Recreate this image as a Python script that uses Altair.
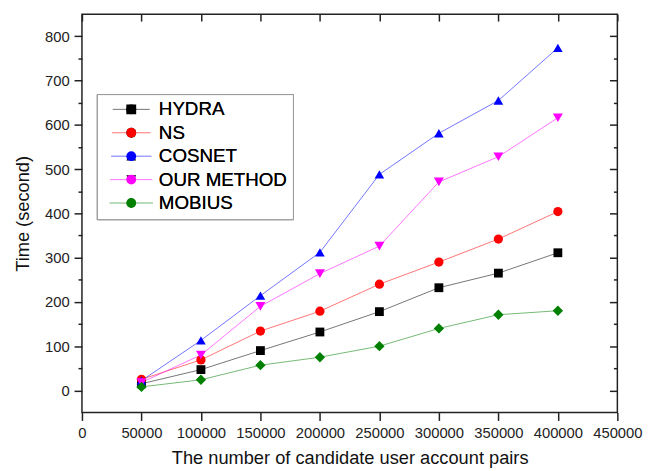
import altair as alt
import pandas as pd

# ---- data ----
x_vals = [50000, 100000, 150000, 200000, 250000, 300000, 350000, 400000]
series_names = ["HYDRA", "NS", "COSNET", "OUR METHOD", "MOBIUS"]
hydra = [15, 47, 90, 132, 178, 232, 265, 311]
ns = [25, 69, 134, 179, 240, 290, 342, 404]
cosnet = [22, 113, 214, 312, 488, 581, 655, 774]
ours = [18, 80, 190, 264, 326, 471, 528, 616]
mobius = [8, 24, 57, 75, 100, 140, 171, 180]

colors = ["#000000", "#ff0000", "#0000ff", "#ff00ff", "#008000"]
shapes = ["square", "circle", "triangle-up", "triangle-down", "diamond"]
sizes = [80, 110, 130, 130, 135]

x_major = [0, 50000, 100000, 150000, 200000, 250000, 300000, 350000, 400000, 450000]
y_major = [0, 100, 200, 300, 400, 500, 600, 700, 800]
y_minor = [50, 150, 250, 350, 450, 550, 650, 750]

rows = []
for name, vals in zip(series_names, [hydra, ns, cosnet, ours, mobius]):
    for xv, v in zip(x_vals, vals):
        rows.append({"pairs": xv, "time": v, "series": name, "label": name, "kind": name})
df = pd.DataFrame(rows)

FONT = "Liberation Sans"
INK = "#222222"

xscale = alt.Scale(domain=[0, 450000], nice=False, zero=False)
yscale = alt.Scale(domain=[-50, 850], nice=False, zero=False)

base = alt.Chart(df)

# legend made of two overlapping legends: one draws the lines, the other the
# marker shapes, the box and the labels
line_legend = alt.Legend(
    orient="none", legendX=15, legendY=81, title=None, padding=6, rowPadding=3.75,
    clipHeight=19, labelFont=FONT, labelFontSize=19, labelOpacity=0,
    symbolType="M-4.2,0H4.2", symbolSize=100, symbolStrokeWidth=1,
    symbolOpacity=0.55, symbolOffset=19.5, labelOffset=18.5)

shape_legend = alt.Legend(
    orient="none", legendX=15, legendY=81, title=None, padding=6, rowPadding=3.75,
    clipHeight=19, labelFont=FONT, labelFontSize=19, labelColor="#000000",
    symbolSize=100, symbolStrokeWidth=0, symbolOffset=19.5, symbolOpacity=1,
    labelOffset=18.5, strokeColor="#9a9a9a")

lines = base.mark_line(strokeWidth=1, opacity=0.55).encode(
    x=alt.X("pairs:Q", scale=xscale, axis=alt.Axis(
        orient="bottom", values=x_major, format="d", tickSize=8, tickWidth=1.5,
        tickColor=INK, domain=False, grid=False, labelFont=FONT, labelFontSize=15,
        labelColor=INK, labelPadding=5, labelOverlap=False, labelFlush=False,
        title="The number of candidate user account pairs", titleFont=FONT,
        titleFontSize=18.5, titleFontWeight="normal", titleColor="#111111",
        titlePadding=9)),
    y=alt.Y("time:Q", scale=yscale, axis=alt.Axis(
        orient="left", values=y_major, tickSize=8, tickWidth=1.5, tickColor=INK,
        domain=False, grid=False, labelFont=FONT, labelFontSize=15, labelColor=INK,
        labelPadding=5, labelFlush=False, title="Time (second)", titleFont=FONT,
        titleFontSize=18.5, titleFontWeight="normal", titleColor="#111111",
        titlePadding=12)),
    stroke=alt.Stroke("series:N", sort=series_names,
                      scale=alt.Scale(domain=series_names, range=colors),
                      legend=line_legend),
    detail="series:N",
)

points = base.mark_point(filled=True, opacity=1).encode(
    x=alt.X("pairs:Q", scale=xscale, axis=None),
    y=alt.Y("time:Q", scale=yscale, axis=None),
    fill=alt.Fill("label:N", sort=series_names,
                  scale=alt.Scale(range=colors), legend=shape_legend),
    shape=alt.Shape("label:N", sort=series_names,
                    scale=alt.Scale(range=shapes), legend=shape_legend),
    size=alt.Size("kind:N", sort=series_names,
                  scale=alt.Scale(domain=series_names, range=sizes), legend=None),
)

mirror1 = base.mark_point(opacity=0).encode(
    x=alt.X("pairs:Q", scale=xscale, axis=alt.Axis(
        orient="top", values=x_major, tickSize=7, tickWidth=1.5, tickColor=INK,
        offset=-7, labels=False, domain=False, grid=False, title=None)),
    y=alt.Y("time:Q", scale=yscale, axis=alt.Axis(
        orient="left", values=y_minor, tickSize=4, tickWidth=1.5, tickColor=INK,
        labels=False, domain=False, grid=False, title=None)),
)

mirror2 = base.mark_point(opacity=0).encode(
    x=alt.X("pairs:Q", scale=xscale, axis=None),
    y=alt.Y("time:Q", scale=yscale, axis=alt.Axis(
        orient="right", values=y_major, tickSize=8, tickWidth=1.5, tickColor=INK,
        offset=-8, labels=False, domain=False, grid=False, title=None)),
)

mirror3 = base.mark_point(opacity=0).encode(
    x=alt.X("pairs:Q", scale=xscale, axis=None),
    y=alt.Y("time:Q", scale=yscale, axis=alt.Axis(
        orient="right", values=y_minor, tickSize=4, tickWidth=1.5, tickColor=INK,
        offset=-4, labels=False, domain=False, grid=False, title=None)),
)

chart = alt.layer(lines, points, mirror1, mirror2, mirror3).resolve_axis(
    x="independent", y="independent"
).properties(
    width=543, height=404,
    padding={"left": 5, "top": 2, "right": 0, "bottom": 0},
    background="white",
).configure_view(
    stroke=INK, strokeWidth=1.5
)

chart.save("out.html", embed_options={"renderer": "svg", "actions": False})
